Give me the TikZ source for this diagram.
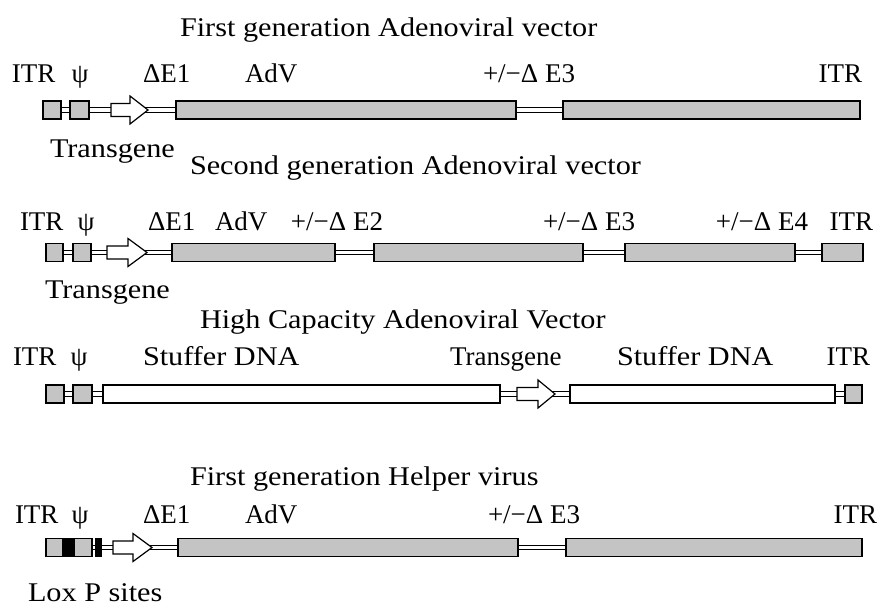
\documentclass[tikz,border=0pt]{standalone}
\usepackage{fontspec}
\setmainfont{Liberation Serif}
\newfontfamily\widefam{Liberation Serif}[FakeStretch=1.12]
\definecolor{bxgray}{RGB}{196,196,196}
\tikzset{
  gbx/.style={draw=black, fill=bxgray, line width=1.4pt},
  wbx/.style={draw=black, fill=white, line width=1.4pt},
  blk/.style={draw=black, fill=black, line width=1pt},
  dln/.style={draw=black, fill=white, line width=0.9pt},
  arw/.style={draw=black, fill=white, line width=1.2pt, line join=miter},
  lbl/.style={inner sep=0pt, outer sep=0pt, anchor=base west, font=\fontsize{27}{30}\selectfont},
  lble/.style={lbl, anchor=base east},
  lblc/.style={lbl, anchor=base},
  wlbl/.style={inner sep=0pt, outer sep=0pt, anchor=base west, font=\widefam\fontsize{27}{30}\selectfont}
}
\newcommand\gbox[3]{\draw[gbx] (#1,#3-9) rectangle (#2,#3+9);}
\newcommand\wbox[3]{\draw[wbx] (#1,#3-9) rectangle (#2,#3+9);}
\newcommand\bbox[3]{\draw[blk] (#1,#3-9) rectangle (#2,#3+9);}
\newcommand\dline[3]{\draw[dln] (#1,#3-2.3) rectangle (#2,#3+2.3);}
\newcommand\tarrow[4]{\draw[arw] (#1,#4-6.5) -- (#2,#4-6.5) -- (#2,#4-14) -- (#3,#4) -- (#2,#4+14) -- (#2,#4+6.5) -- (#1,#4+6.5) -- cycle;}
\begin{document}
\begin{tikzpicture}[x=1pt,y=-1pt]
\useasboundingbox (0,0) rectangle (880,608);
% ---------- Row 1: First generation Adenoviral vector
\node[wlbl] (t1) at (180,36) {First generation Adenoviral vector};
\node[lbl] (a1) at (12,82) {ITR};
\node[lblc] (p1) at (80,82) {ψ};
\node[lbl] (b1) at (143,82) {ΔE1};
\node[lbl] (c1) at (245,82) {AdV};
\node[lbl] (d1) at (483,82) {+/−Δ E3};
\node[lble] (e1) at (862,82) {ITR};
\dline{43}{860}{110}
\gbox{43}{61}{110}
\gbox{70}{89}{110}
\tarrow{111}{130}{148}{110}
\gbox{176}{516}{110}
\gbox{563}{860}{110}
\node[wlbl] (g1) at (50,157) {Transgene};
% ---------- Row 2: Second generation Adenoviral vector
\node[wlbl] (t2) at (190,174) {Second generation Adenoviral vector};
\node[lbl] (a2) at (20,230) {ITR};
\node[lblc] (p2) at (86,230) {ψ};
\node[lbl] (b2) at (148,230) {ΔE1};
\node[lbl] (c2) at (215,230) {AdV};
\node[lble] (h2) at (383,230) {+/−Δ E2};
\node[lbl] (d2) at (543,230) {+/−Δ E3};
\node[lble] (f2) at (808,230) {+/−Δ E4};
\node[lble] (e2) at (873,230) {ITR};
\dline{46}{863}{252.5}
\gbox{46}{63}{252.5}
\gbox{73}{91}{252.5}
\tarrow{107}{128}{147}{252.5}
\gbox{172}{335}{252.5}
\gbox{374}{583}{252.5}
\gbox{625}{795}{252.5}
\gbox{822}{863}{252.5}
\node[wlbl] (g2) at (45,298) {Transgene};
% ---------- Row 3: High Capacity Adenoviral Vector
\node[wlbl] (t3) at (200,328) {High Capacity Adenoviral Vector};
\node[lbl] (a3) at (13,365) {ITR};
\node[lblc] (p3) at (79,365) {ψ};
\node[wlbl] (b3) at (143,365) {Stuffer DNA};
\node[lbl] (c3) at (450,365) {Transgene};
\node[wlbl] (d3) at (617,365) {Stuffer DNA};
\node[lble] (e3) at (870,365) {ITR};
\dline{46}{862}{394}
\gbox{46}{64}{394}
\gbox{73}{92}{394}
\wbox{103}{500}{394}
\tarrow{517}{538}{555}{394}
\wbox{570}{835}{394}
\gbox{845}{862}{394}
% ---------- Row 4: First generation Helper virus
\node[wlbl] (t4) at (190,485) {First generation Helper virus};
\node[lbl] (a4) at (15,523) {ITR};
\node[lblc] (p4) at (80,523) {ψ};
\node[lbl] (b4) at (143,523) {ΔE1};
\node[lbl] (c4) at (245,523) {AdV};
\node[lbl] (d4) at (488,523) {+/−Δ E3};
\node[lble] (e4) at (877,523) {ITR};
\dline{46}{862}{547.5}
\gbox{46}{92}{547.5}
\bbox{62}{74}{547.5}
\bbox{95}{101}{547.5}
\tarrow{113}{133}{152}{547.5}
\gbox{178}{518}{547.5}
\gbox{566}{862}{547.5}
\node[wlbl] (g4) at (28,601) {Lox P sites};
\end{tikzpicture}
\end{document}
